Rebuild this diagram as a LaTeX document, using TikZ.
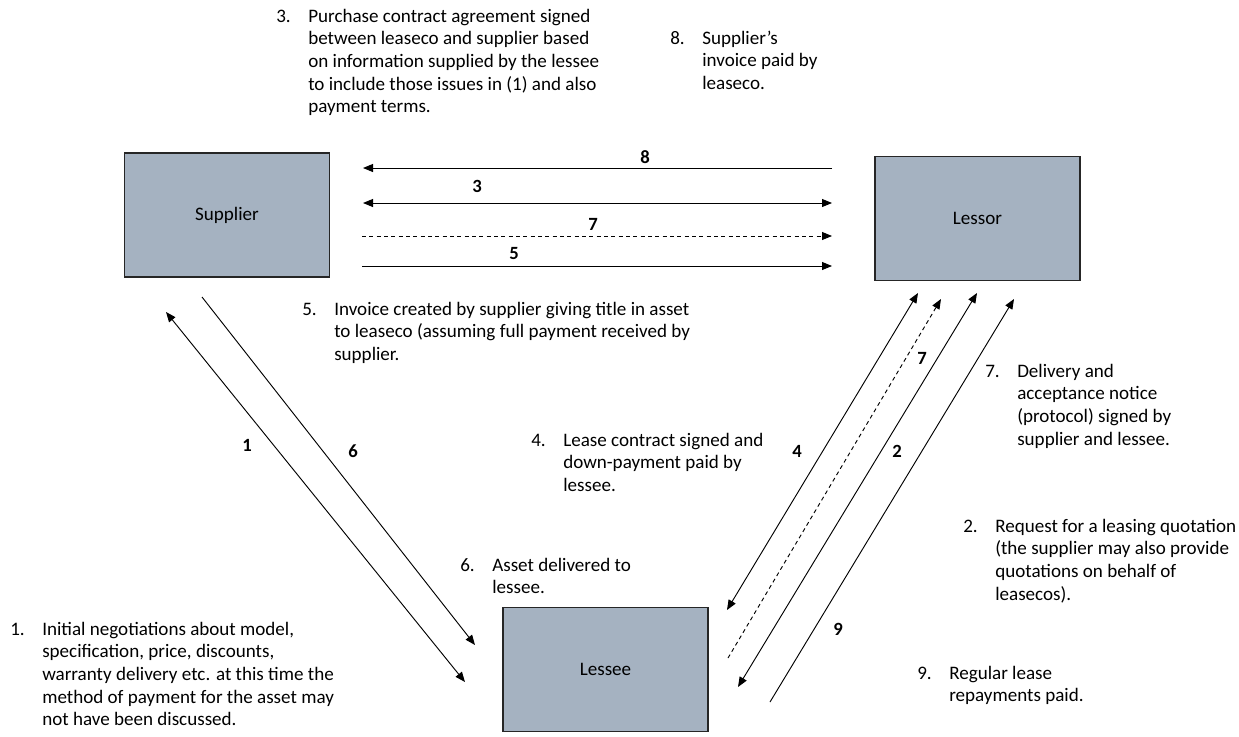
\documentclass[tikz,border=0pt]{standalone}
\usepackage{fontspec}
\setmainfont{Carlito}
\usetikzlibrary{arrows.meta}

\definecolor{boxfill}{RGB}{165,178,193}
\newlength{\noteindent}
\setlength{\noteindent}{24pt}
\newcommand{\stepnote}[2]{\makebox[\noteindent][l]{#1}\parbox[t]{300pt}{\raggedright #2}}

\tikzset{
  >={Triangle[length=7.5pt,width=6pt]},
  party/.style={draw=black!85, line width=1.1pt, fill=boxfill, inner sep=0pt,
    minimum width=154pt, minimum height=93pt, font=\fontsize{14.3pt}{17pt}\selectfont},
  flow/.style={line width=0.7pt},
  note/.style={anchor=base west, inner sep=0pt,
    font=\fontsize{14.3pt}{17pt}\selectfont},
  lbl/.style={inner sep=0pt, font=\fontsize{14pt}{16pt}\selectfont\bfseries}
}

\begin{document}
\begin{tikzpicture}[x=0.75pt,y=-0.75pt]
    \useasboundingbox (0,0) rectangle (1239,736);

    % the three parties
    \node[party] (supplier) at (227,215) {Supplier};
    \node[party] (lessor) at (977.5,218.5) {Lessor};
    \node[party] (lessee) at (605.5,669.5) {Lessee};

    % ends of the flows
    \coordinate (h8r) at (832,168); \coordinate (h8l) at (363,168);
    \coordinate (h3r) at (832,203); \coordinate (h3l) at (363,203);
    \coordinate (h7r) at (832,236); \coordinate (h7l) at (362,236);
    \coordinate (h5r) at (832,266); \coordinate (h5l) at (362,266);
    \coordinate (d1t) at (166,312); \coordinate (d1b) at (465,682);
    \coordinate (d6t) at (202,297); \coordinate (d6b) at (475,645);
    \coordinate (d4t) at (918,293); \coordinate (d4b) at (727,610);
    \coordinate (d7t) at (941,299); \coordinate (d7b) at (728,658);
    \coordinate (d2t) at (977,293); \coordinate (d2b) at (738,687);
    \coordinate (d9t) at (1014,299); \coordinate (d9b) at (770,702);

    \draw[flow, ->] (h8r) -- (h8l);
    \draw[flow, <->] (h3l) -- (h3r);
    \draw[flow, ->, dash pattern=on 3pt off 2.5pt] (h7l) -- (h7r);
    \draw[flow, ->] (h5l) -- (h5r);
    \draw[flow, <->] (d1t) -- (d1b);
    \draw[flow, ->] (d6t) -- (d6b);
    \draw[flow, <->] (d4t) -- (d4b);
    \draw[flow, ->, dash pattern=on 3pt off 2.5pt] (d7b) -- (d7t);
    \draw[flow, <->] (d2t) -- (d2b);
    \draw[flow, ->] (d9b) -- (d9t);

    % step numbers on the flows
    \node[lbl] (l8) at (645,157) {8};
    \node[lbl] (l3) at (477,186) {3};
    \node[lbl] (l7h) at (593,224) {7};
    \node[lbl] (l5) at (514,254) {5};
    \node[lbl] (l1) at (247,445) {1};
    \node[lbl] (l6) at (353,451) {6};
    \node[lbl] (l4) at (797,451) {4};
    \node[lbl] (l7d) at (922,358) {7};
    \node[lbl] (l2) at (897,451) {2};
    \node[lbl] (l9) at (838,629) {9};

    % notes
    \node[note] (n3) at (276,22) {\stepnote{3.}{Purchase contract agreement signed\\between leaseco and supplier based\\on information supplied by the lessee\\to include those issues in (1) and also\\payment terms.}};
    \node[note] (n8) at (670,44) {\stepnote{8.}{Supplier’s\\invoice paid by\\leaseco.}};
    \node[note] (n5) at (302,315) {\stepnote{5.}{Invoice created by supplier giving title in asset\\to leaseco (assuming full payment received by\\supplier.}};
    \node[note] (n4) at (531,446) {\stepnote{4.}{Lease contract signed and\\down-payment paid by\\lessee.}};
    \node[note] (n6) at (460,571) {\stepnote{6.}{Asset delivered to\\lessee.}};
    \node[note] (n1) at (10,635) {\stepnote{1.}{Initial negotiations about model,\\specification, price, discounts,\\warranty delivery etc. at this time the\\method of payment for the asset may\\not have been discussed.}};
    \node[note] (n7) at (985,377) {\stepnote{7.}{Delivery and\\acceptance notice\\(protocol) signed by\\supplier and lessee.}};
    \node[note] (n2) at (963,532) {\stepnote{2.}{Request for a leasing quotation\\(the supplier may also provide\\quotations on behalf of\\leasecos).}};
    \node[note] (n9) at (917,679) {\stepnote{9.}{Regular lease\\repayments paid.}};
\end{tikzpicture}
\end{document}
